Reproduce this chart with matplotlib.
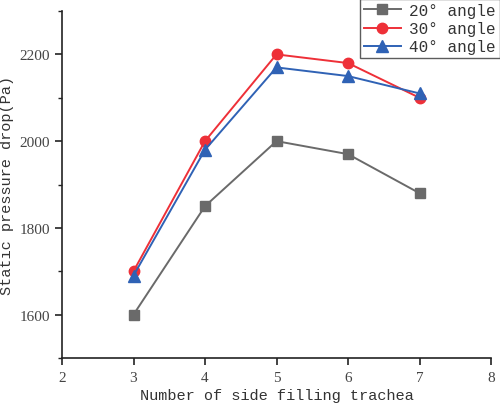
import matplotlib
matplotlib.use("Agg")
import matplotlib.pyplot as plt
from matplotlib.ticker import MultipleLocator

x = [3, 4, 5, 6, 7]
angle20 = [1600, 1850, 2000, 1970, 1880]
angle30 = [1700, 2000, 2200, 2180, 2100]
angle40 = [1690, 1980, 2170, 2150, 2110]
labels = ["20° angle", "30° angle", "40° angle"]

plt.rcParams['font.family'] = ['Liberation Mono', 'DejaVu Sans']

fig = plt.figure(figsize=(5, 4.1), dpi=100)
ax = fig.add_axes([0.124, 0.1244, 0.858, 0.8463])

ax.plot(x, angle20, color='#6a6a6a', marker='s', markersize=6.5, lw=1.4, label=labels[0])
ax.plot(x, angle30, color='#ee3038', marker='o', markersize=7.5, lw=1.4, label=labels[1])
ax.plot(x, angle40, color='#2f62b5', marker='^', markersize=8, lw=1.4, label=labels[2])

ax.set_xlim(2, 8)
ax.set_ylim(1500, 2300)
ax.xaxis.set_major_locator(MultipleLocator(1))
ax.yaxis.set_major_locator(MultipleLocator(200))
ax.yaxis.set_minor_locator(MultipleLocator(100))
ax.set_yticks([1600, 1800, 2000, 2200])
for s in ['top', 'right']:
    ax.spines[s].set_visible(False)
for s in ['left', 'bottom']:
    ax.spines[s].set_linewidth(1.2)
    ax.spines[s].set_color('#222222')
ax.tick_params(axis='both', which='major', direction='out', length=5, width=1.2,
               labelsize=11, colors='#222222', labelcolor='#444444')
ax.tick_params(axis='x', which='major', pad=4.5)
ax.tick_params(axis='y', which='minor', direction='out', length=3, width=1.0, colors='#222222')
for lab in ax.get_xticklabels() + ax.get_yticklabels():
    lab.set_family(['Liberation Serif', 'DejaVu Serif'])

ax.set_xlabel('Number of side filling trachea', fontsize=11, color='#333333', labelpad=3)
ax.set_ylabel('Static pressure drop(Pa)', fontsize=11, color='#333333', labelpad=4)

leg = fig.legend(loc='upper right', bbox_to_anchor=(1.0, 1.0), fontsize=11.5,
                 frameon=True, fancybox=False, borderpad=0.25, labelspacing=0.2,
                 handlelength=2.3, handletextpad=0.55, borderaxespad=0)
leg.get_frame().set_edgecolor('#333333')
leg.get_frame().set_linewidth(1.0)
for t in leg.get_texts():
    t.set_color('#333333')

fig.savefig('out.png', dpi=100)
